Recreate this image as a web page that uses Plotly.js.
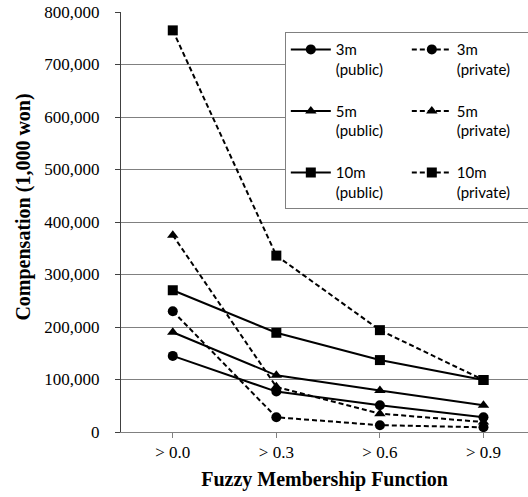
<!DOCTYPE html>
<html>
<head>
<meta charset="utf-8">
<script src="https://cdn.plot.ly/plotly-3.0.1.min.js"></script>
<style>html,body{margin:0;padding:0;background:#fff;}#chart{width:528px;height:497px;}</style>
</head>
<body>
<div id="chart"></div>
<script>
const categories = ["> 0.0", "> 0.3", "> 0.6", "> 0.9"];
const seriesNames = ["3m<br>(public)<br>&nbsp;", "3m<br>(private)<br>&nbsp;", "5m<br>(public)<br>&nbsp;", "5m<br>(private)<br>&nbsp;", "10m<br>(public)", "10m<br>(private)"];
const m3Public = [145000, 77000, 51000, 28000];
const m3Private = [230000, 28000, 13000, 9000];
const m5Public = [190000, 108000, 79000, 51000];
const m5Private = [375000, 86000, 35000, 19000];
const m10Public = [270000, 189000, 137000, 99000];
const m10Private = [765000, 336000, 194000, 99000];
const yTicks = [0, 100000, 200000, 300000, 400000, 500000, 600000, 700000, 800000];

const values = [m3Public, m3Private, m5Public, m5Private, m10Public, m10Private];
const symbols = ["circle", "circle", "triangle-up", "triangle-up", "square", "square"];
const dashes = ["solid", "dash", "solid", "dash", "solid", "dash"];

const serif = "Liberation Serif";

const traces = values.map((v, i) => ({
  type: "scatter",
  mode: "lines+markers",
  x: [0, 1, 2, 3],
  y: v,
  name: seriesNames[i],
  line: {color: "#000", width: 2, dash: dashes[i] === "dash" ? "5px,3px" : "solid"},
  marker: {symbol: symbols[i], size: 10, color: "#000"},
  cliponaxis: false
}));

const layout = {
  width: 528, height: 497,
  margin: {l: 121, r: 0, t: 12, b: 65, autoexpand: false},
  paper_bgcolor: "#fff", plot_bgcolor: "#fff",
  font: {family: serif, color: "#000", size: 17},
  xaxis: {
    range: [-0.5, 3.43],
    tickmode: "array", tickvals: [0, 1, 2, 3], ticktext: categories,
    tickson: "boundaries",
    ticks: "outside", ticklen: 5, tickcolor: "#808080",
    showline: true, linecolor: "#808080", linewidth: 1,
    showgrid: false, zeroline: false,
    tickfont: {family: serif, size: 17, color: "#000"},
    title: {text: "<b>Fuzzy Membership Function</b>", font: {family: serif, size: 20, color: "#000"}, standoff: 10},
    fixedrange: true
  },
  yaxis: {
    range: [0, 800000],
    tickmode: "array", tickvals: yTicks, ticktext: yTicks.map(v => v.toLocaleString("en-US")),
    ticks: "outside", ticklen: 5, tickcolor: "#404040",
    showline: true, linecolor: "#404040", linewidth: 1,
    showgrid: true, gridcolor: "#808080", gridwidth: 1,
    zeroline: false,
    ticklabelstandoff: 12,
    tickfont: {family: serif, size: 17, color: "#000"},
    title: {text: "&nbsp;&nbsp;&nbsp;&nbsp;&nbsp;&nbsp;<b>Compensation (1,000 won)</b>", font: {family: serif, size: 20, color: "#000"}, standoff: 8},
    fixedrange: true
  },
  showlegend: true,
  legend: {
    orientation: "h",
    x: 1.002, xanchor: "right",
    y: 0.952, yanchor: "top",
    bgcolor: "#fff", bordercolor: "#808080", borderwidth: 1,
    font: {family: "Lato", size: 15, color: "#000"},
    entrywidth: 66, entrywidthmode: "pixels",
    itemwidth: 40,
    valign: "top",
    traceorder: "normal"
  }
};

Plotly.newPlot("chart", traces, layout, {displayModeBar: false, staticPlot: true});
</script>
</body>
</html>
